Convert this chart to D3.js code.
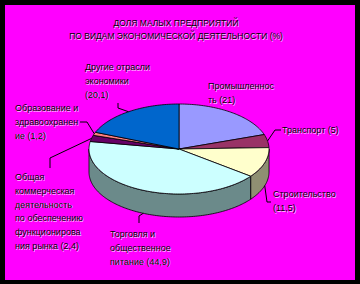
<!DOCTYPE html>
<html><head><meta charset="utf-8">
<script src="https://cdn.jsdelivr.net/npm/d3@7"></script>
<style>html,body{margin:0;padding:0;background:#000;}svg{display:block;}</style>
</head><body>
<svg id="c" width="360" height="284"></svg>
<script>
const titleLines = ["ДОЛЯ МАЛЫХ ПРЕДПРИЯТИЙ", "ПО ВИДАМ ЭКОНОМИЧЕСКОЙ ДЕЯТЕЛЬНОСТИ (%)"];
const categories = ["Промышленность", "Транспорт", "Строительство", "Торговля и общественное питание",
  "Общая коммерческая деятельность по обеспечению функционирования рынка", "Образование и здравоохранение", "Другие отрасли экономики"];
const values = [21, 5, 11.5, 44.9, 2.4, 1.2, 20.1];
const labelLines = [
  ["Промышленнос", "ть (21)"],
  ["Транспорт (5)"],
  ["Строительство", "(11,5)"],
  ["Торговля и", "общественное", "питание (44,9)"],
  ["Общая", "коммерческая", "деятельность", "по обеспечению", "функционирова", "ния рынка (2,4)"],
  ["Образование и", "здравоохранен", "ие (1,2)"],
  ["Другие отрасли", "экономики", "(20,1)"]
];
const topColors = ["#9999FF", "#993366", "#FFFFCC", "#CCFFFF", "#660066", "#FF8080", "#0066CC"];
const sideColors = ["#5C5C99", "#5C1F3D", "#8F8F72", "#6B8A8A", "#3D003D", "#994D4D", "#003D7A"];

// layout (not data)
const W = 360, H = 284;
const cx = 179, cy = 149, rx = 90, ry = 45, depth = 23;
const labelPos = [
  {x: 208, y: 86}, {x: 282, y: 130}, {x: 273, y: 194}, {x: 110, y: 234},
  {x: 15, y: 177}, {x: 15, y: 108}, {x: 85, y: 67}
];
const leaderElbows = [
  null,
  [[281, 130], [275, 130]],
  [[271, 202], [267, 202]],
  [[139, 223], [139, 216]],
  [[50, 168], [50, 158]],
  [[80, 122], [87, 122]],
  [[118, 103], [118, 108]]
];
const lineH = 13.8;

const svg = d3.select("#c");
svg.append("rect").attr("x", 5).attr("y", 5).attr("width", 350).attr("height", 275).attr("fill", "#FF00FF");

const pie = d3.pie().sort(null).value(d => d)(values);
const px = a => cx + rx * Math.sin(a);
const py = a => cy - ry * Math.cos(a);
const line = d3.line();

function arcPoints(a0, a1, dy) {
  const n = Math.max(2, Math.ceil(Math.abs(a1 - a0) / 0.02));
  return d3.range(n + 1).map(i => { const a = a0 + (a1 - a0) * i / n; return [px(a), py(a) + dy]; });
}

// sides (front half only)
const gSide = svg.append("g");
pie.forEach((s, i) => {
  const a0 = Math.max(s.startAngle, Math.PI / 2), a1 = Math.min(s.endAngle, 3 * Math.PI / 2);
  if (a1 <= a0) return;
  const pts = arcPoints(a0, a1, 0).concat(arcPoints(a1, a0, depth));
  gSide.append("path").attr("d", line(pts) + "Z")
    .attr("fill", sideColors[i]).attr("stroke", "#000").attr("stroke-width", 0.8).attr("stroke-linejoin", "round");
});
// top faces
const gTop = svg.append("g");
pie.forEach((s, i) => {
  const pts = [[cx, cy]].concat(arcPoints(s.startAngle, s.endAngle, 0));
  gTop.append("path").attr("d", line(pts) + "Z")
    .attr("fill", topColors[i]).attr("stroke", "#000").attr("stroke-width", 0.8).attr("stroke-linejoin", "round");
});

// leaders
const gLead = svg.append("g");
pie.forEach((s, i) => {
  if (!leaderElbows[i]) return;
  const m = (s.startAngle + s.endAngle) / 2;
  const front = Math.cos(m) < 0 ? depth : 0;
  const pts = leaderElbows[i].concat([[px(m), py(m) + front]]);
  gLead.append("path").attr("d", line(pts)).attr("fill", "none").attr("stroke", "#000").attr("stroke-width", 1);
});

function embossText(g, x, y, txt, size, ls) {
  g.append("text").attr("x", x + 0.8).attr("y", y + 0.8).text(txt)
    .attr("font-size", size).attr("fill", "#fff").attr("fill-opacity", 0.75).attr("letter-spacing", ls)
    .attr("dominant-baseline", "central");
  g.append("text").attr("x", x).attr("y", y).text(txt)
    .attr("font-size", size).attr("fill", "#000").attr("letter-spacing", ls)
    .attr("dominant-baseline", "central");
}

const gText = svg.append("g").attr("font-family", "'Liberation Sans', Arial, sans-serif");
titleLines.forEach((t, k) => {
  const tg = gText.append("g").attr("text-anchor", "middle");
  embossText(tg, 176, 23 + k * 13, t, 8.5, 0);
});
labelLines.forEach((lines, i) => {
  lines.forEach((t, k) => embossText(gText, labelPos[i].x, labelPos[i].y + k * lineH, t, 9, 0));
});
</script>
</body></html>
